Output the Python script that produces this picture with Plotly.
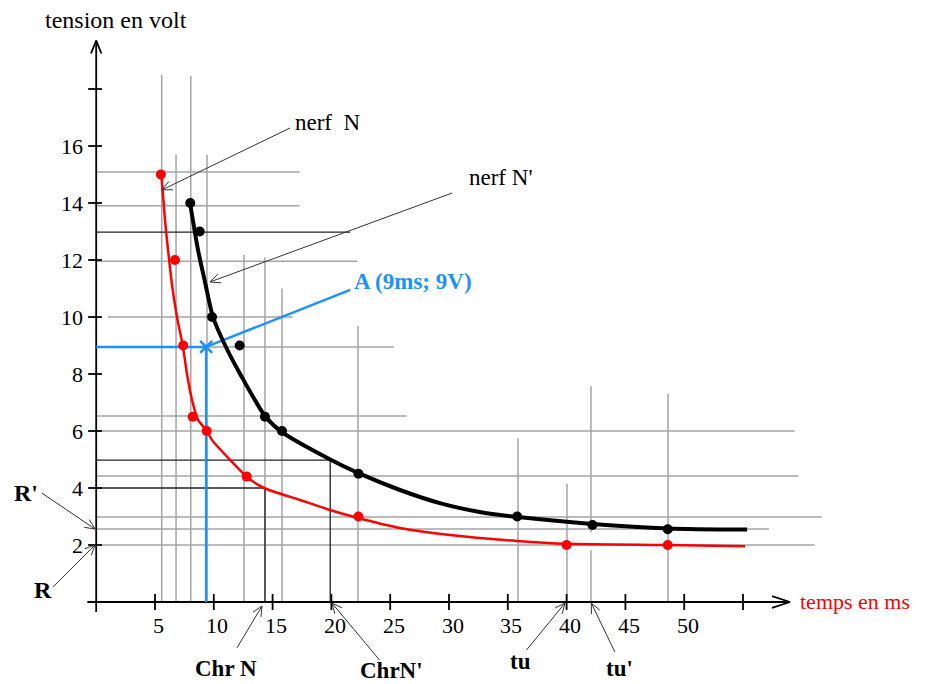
import math
import plotly.graph_objects as go

# ---------------- data ----------------
x_ticks = [5, 10, 15, 20, 25, 30, 35, 40, 45, 50, 55]
x_tick_labels = ['5', '10', '15', '20', '25', '30', '35', '40', '45', '50', '']
y_ticks = [2, 4, 6, 8, 10, 12, 14, 16, 18]
y_tick_labels = ['2', '4', '6', '8', '10', '12', '14', '16', '']

# measured points, nerf N (red) and nerf N' (black)
red_t = [5.5, 6.7, 7.4, 8.2, 9.4, 12.8, 22.3, 40.0, 48.6]
red_v = [15.0, 12.0, 9.0, 6.5, 6.0, 4.4, 3.0, 2.0, 2.0]
black_t = [8.0, 8.8, 9.85, 12.2, 14.35, 15.8, 22.3, 35.8, 42.2, 48.6]
black_v = [14.0, 13.0, 10.0, 9.0, 6.5, 6.0, 4.5, 3.0, 2.7, 2.55]

# hand-drawn fitted curves
red_curve_t = [5.52, 5.85, 6.11, 6.45, 6.87, 7.38, 7.72, 8.15, 8.66, 9.42, 9.85, 11.4,
               12.82, 14.27, 17.33, 19.88, 22.26, 25.83, 30.08, 35.78, 40.03, 48.63, 55.17]
red_curve_v = [15.09, 13.40, 12.35, 11.12, 10.0, 8.95, 8.0, 7.09, 6.39, 6.0, 5.68, 4.98,
               4.39, 4.0, 3.58, 3.23, 2.95, 2.6, 2.35, 2.14, 2.04, 2.0, 1.96]
black_curve_t = [7.98, 8.66, 9.25, 9.93, 10.97, 12.24, 14.35, 15.8, 19.9, 22.26,
                 25.83, 29.22, 32.6, 35.87, 42.16, 48.63, 55.35]
black_curve_v = [14.0, 12.35, 11.23, 10.0, 9.0, 8.0, 6.53, 5.96, 5.0, 4.53,
                 3.93, 3.47, 3.16, 2.98, 2.74, 2.58, 2.54]

# reading lines (V, t_start, t_end) and (t, V_top, V_bottom)
gray_h_v = [15.09, 13.9, 11.96, 10.0, 8.95, 6.53, 6.0, 4.42, 2.98, 2.56, 2.0]
gray_h_t0 = [0, 0, 0, 1.0, 0, 0, 0, 0, 0, 0, 0.3]
gray_h_t1 = [17.3, 17.3, 22.2, 16.7, 25.3, 26.4, 59.4, 59.7, 61.7, 57.2, 61.1]
gray_v_t = [5.57, 6.79, 8.04, 9.42, 12.57, 14.35, 15.8, 22.26, 35.87, 40.03, 42.07, 42.07, 48.63]
gray_v_top = [18.5, 15.7, 18.46, 15.7, 12.18, 12.1, 11.0, 9.68, 5.75, 4.14, 7.58, 1.82, 7.3]
gray_v_bot = [0, 0, 0, 0, 0, 0, 0, 0, 0, 0, 2.45, 0, 0]

black_h_v = [12.98, 4.98, 4.0]
black_h_t1 = [21.6, 19.9, 14.35]
black_v_t = [14.35, 19.9]
black_v_top = [4.0, 4.98]

# point A
A_t, A_v = 9.35, 8.95
A_label_t, A_label_v = 21.6, 10.95

# ---------------- geometry helpers ----------------
W, H = 927, 684
SX, SY = 11.76, 28.5          # px per ms, px per volt
PAGE_OFF = 8                  # default body margin of the html page
ORIG_X, ORIG_Y = 96.2, 602
XR = [(PAGE_OFF - ORIG_X) / SX, (PAGE_OFF - ORIG_X) / SX + W / SX]
YR = [(ORIG_Y - PAGE_OFF) / SY - H / SY, (ORIG_Y - PAGE_OFF) / SY]


def seg_trace(xs, ys, color, width, dash='solid'):
    return go.Scatter(x=xs, y=ys, mode='lines', line=dict(color=color, width=width, dash=dash),
                      hoverinfo='skip', showlegend=False)


def arrow_xy(x0, y0, x1, y1, L=10, ang=25):
    dx, dy = (x1 - x0) * SX, (y1 - y0) * SY
    n = math.hypot(dx, dy)
    ux, uy = -dx / n, -dy / n
    xs, ys = [x0, x1, None], [y0, y1, None]
    for s in (1, -1):
        a = math.radians(ang) * s
        rx = ux * math.cos(a) - uy * math.sin(a)
        ry = ux * math.sin(a) + uy * math.cos(a)
        xs += [x1, x1 + rx * L / SX, None]
        ys += [y1, y1 + ry * L / SY, None]
    return xs, ys


fig = go.Figure()

# gray reading lines
gx, gy = [], []
for v, a, b in zip(gray_h_v, gray_h_t0, gray_h_t1):
    gx += [a, b, None]; gy += [v, v, None]
for t, a, b in zip(gray_v_t, gray_v_top, gray_v_bot):
    gx += [t, t, None]; gy += [a, b, None]
fig.add_trace(seg_trace(gx, gy, '#a4a4a4', 1.5))

# black reading lines
bx, by = [], []
for v, b in zip(black_h_v, black_h_t1):
    bx += [0, b, None]; by += [v, v, None]
for t, a in zip(black_v_t, black_v_top):
    bx += [t, t, None]; by += [a, 0, None]
fig.add_trace(seg_trace(bx, by, '#222222', 1.3))

# axes with arrows
ax_x, ax_y = arrow_xy(-0.75, 0, 59.0, 0, L=19, ang=18)
ay_x, ay_y = arrow_xy(0, -0.35, 0, 19.7, L=14, ang=22)
fig.add_trace(seg_trace(ax_x + ay_x, ax_y + ay_y, 'black', 1.8))

# ticks
tx, ty = [], []
for t in x_ticks:
    tx += [t, t, None]; ty += [0.28, -0.28, None]
for v in y_ticks:
    tx += [-0.69, 0.49, None]; ty += [v, v, None]
fig.add_trace(seg_trace(tx, ty, 'black', 1.8))

# blue construction for A
fig.add_trace(seg_trace([0, A_t, A_t, None, A_t, A_label_t],
                        [A_v, A_v, 0, None, A_v, A_label_v], '#1e90ff', 2.5))
fig.add_trace(go.Scatter(x=[A_t], y=[A_v], mode='markers',
                         marker=dict(symbol='x-thin', size=12, line=dict(color='#1e90ff', width=2.5)),
                         hoverinfo='skip', showlegend=False))

# curves
fig.add_trace(go.Scatter(x=red_curve_t, y=red_curve_v, mode='lines',
                         line=dict(color='#ff0000', width=2.5, shape='spline', smoothing=0.6),
                         hoverinfo='skip', showlegend=False))
fig.add_trace(go.Scatter(x=black_curve_t, y=black_curve_v, mode='lines',
                         line=dict(color='black', width=4, shape='spline', smoothing=0.7),
                         hoverinfo='skip', showlegend=False))
fig.add_trace(go.Scatter(x=red_t, y=red_v, mode='markers', name='nerf N',
                         marker=dict(color='#ff0000', size=10), showlegend=False))
fig.add_trace(go.Scatter(x=black_t, y=black_v, mode='markers', name="nerf N'",
                         marker=dict(color='black', size=10), showlegend=False))

# annotation arrows
arrows = [
    (16.48, 16.63, 5.59, 14.46),   # nerf N
    (30.27, 14.35, 9.68, 11.23),   # nerf N'
    (-4.61, 3.82, -0.10, 2.56),    # R'
    (-3.67, 0.53, -0.10, 2.0),     # R
    (11.97, -1.61, 14.1, -0.14),   # Chr N
    (24.1, -2.04, 20.05, -0.04),   # ChrN'
    (36.6, -1.68, 39.86, -0.04),   # tu
    (44.1, -1.75, 42.1, -0.04),    # tu'
]
rx, ry = [], []
for a in arrows:
    xs, ys = arrow_xy(*a, L=11, ang=25)
    rx += xs; ry += ys
fig.add_trace(seg_trace(rx, ry, '#333333', 1))

SERIF = 'Liberation Serif'
ann = []


def txt(x, y, s, size=23, color='black', bold=False, xanchor='center'):
    if bold:
        s = '<b>' + s + '</b>'
    ann.append(dict(x=x, y=y, xref='x', yref='y', text=s, showarrow=False,
                    xanchor=xanchor, yanchor='middle',
                    font=dict(family=SERIF, size=size, color=color)))


for t, lab in zip(x_ticks, x_tick_labels):
    if lab:
        txt(t + 0.3, -0.81, lab, size=22)
for v, lab in zip(y_ticks, y_tick_labels):
    if lab:
        txt(-0.95, v, lab, size=22, xanchor='right')

txt(1.68, 20.42, 'tension en volt', size=24)
txt(59.7, 0.035, 'temps en ms', size=22, color='#ff0000', xanchor='left')
txt(16.73, 16.84, 'nerf&nbsp; N', size=23, xanchor='left')
txt(31.53, 14.88, "nerf N'", size=23, xanchor='left')
txt(21.75, 11.23, 'A (9ms; 9V)', size=23, color='#1e90ff', bold=True, xanchor='left')
txt(-5.97, 3.82, "R'", size=24, bold=True)
txt(-4.52, 0.42, 'R', size=24, bold=True)
txt(11.04, -2.32, 'Chr N', size=23, bold=True)
txt(25.07, -2.39, "ChrN'", size=23, bold=True)
txt(36.04, -2.07, 'tu', size=23, bold=True)
txt(44.54, -2.32, "tu'", size=23, bold=True)

fig.update_layout(
    width=W, height=H, autosize=False,
    margin=dict(l=0, r=0, t=0, b=0, pad=0),
    paper_bgcolor='white', plot_bgcolor='white',
    xaxis=dict(range=XR, visible=False, fixedrange=True),
    yaxis=dict(range=YR, visible=False, fixedrange=True),
    annotations=ann, showlegend=False,
)

fig.write_html('out.html')
